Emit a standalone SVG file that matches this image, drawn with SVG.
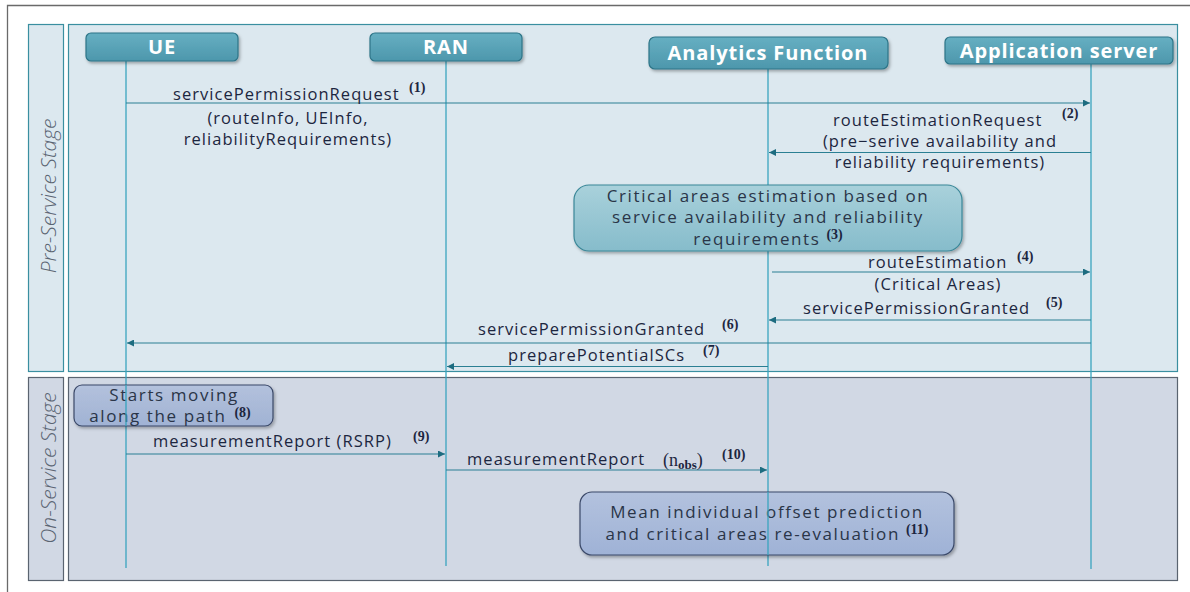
<svg xmlns="http://www.w3.org/2000/svg" width="1190" height="592" viewBox="0 0 1190 592">
<defs>
<style>
.msg{font-family:"Open Sans","Noto Sans",sans-serif;font-size:16.5px;letter-spacing:1.05px;fill:#1c2640;}
.num{font-family:"Liberation Serif","DejaVu Serif",serif;font-size:14px;font-weight:bold;letter-spacing:0;fill:#1c2640;}
.obs{font-family:"Liberation Serif","DejaVu Serif",serif;font-size:18px;fill:#1c2640;}
.hdr{font-family:"Open Sans","Noto Sans",sans-serif;font-size:20px;font-weight:bold;letter-spacing:0.9px;fill:#ffffff;text-anchor:middle;}
.note{font-family:"Open Sans","Noto Sans",sans-serif;font-size:17px;letter-spacing:1.6px;fill:#2a3548;text-anchor:middle;}
.stage{font-family:"Open Sans","Noto Sans",sans-serif;font-size:21px;font-style:italic;font-weight:300;fill:#5a6472;text-anchor:middle;}
.life{stroke:#3aa5bf;stroke-width:1.3;fill:none;}
.arr{stroke:#2a7f93;stroke-width:1.2;fill:none;}
.hbox{fill:url(#hg);stroke:#2d7487;stroke-width:1.2;filter:url(#sh);}
</style>
<linearGradient id="hg" x1="0" y1="0" x2="0" y2="1">
<stop offset="0" stop-color="#66afc2"/><stop offset="1" stop-color="#4d97ac"/>
</linearGradient>
<linearGradient id="tg" x1="0" y1="0" x2="0" y2="1">
<stop offset="0" stop-color="#a9d1db"/><stop offset="1" stop-color="#86bccb"/>
</linearGradient>
<linearGradient id="bg" x1="0" y1="0" x2="0" y2="1">
<stop offset="0" stop-color="#b3c2de"/><stop offset="1" stop-color="#9fb2d6"/>
</linearGradient>
<filter id="sh" x="-10%" y="-20%" width="120%" height="150%">
<feDropShadow dx="1.5" dy="2" stdDeviation="1.5" flood-color="#000" flood-opacity="0.3"/>
</filter>
<marker id="ah" viewBox="0 0 10 10" refX="10" refY="5" markerWidth="8" markerHeight="7" markerUnits="userSpaceOnUse" orient="auto">
<path d="M0,0 L10,5 L0,10 z" fill="#1d6c80"/>
</marker>
</defs>

<!-- outer frame -->
<path d="M7.5,592 V5.5 H1190" fill="none" stroke="#6a6a6a" stroke-width="1.3"/>

<!-- stages -->
<g id="pre-stage">
<rect x="28.5" y="24.5" width="35" height="347" fill="#dce8ef" stroke="#3a8fa0" stroke-width="1.2"/>
<rect x="68.5" y="24.5" width="1109" height="347" fill="#dce8ef" stroke="#3a8fa0" stroke-width="1.2"/>
<text class="stage" transform="translate(56,196) rotate(-90)">Pre-Service Stage</text>
</g>
<g id="on-stage">
<rect x="28.5" y="377.5" width="35" height="203" fill="#d1d8e4" stroke="#5a6470" stroke-width="1.2"/>
<rect x="68.5" y="377.5" width="1109" height="203" fill="#d1d8e4" stroke="#5a6470" stroke-width="1.2"/>
<text class="stage" transform="translate(56,468) rotate(-90)">On-Service Stage</text>
</g>

<!-- lifelines -->
<g id="lifelines">
<line class="life" x1="126" y1="61" x2="126" y2="568"/>
<line class="life" x1="446" y1="61" x2="446" y2="566"/>
<line class="life" x1="768" y1="69" x2="768" y2="566"/>
<line class="life" x1="1091" y1="64" x2="1091" y2="569"/>
</g>

<!-- nodes -->
<g id="UE">
<rect class="hbox" x="86" y="33" width="152" height="28" rx="5"/>
<text class="hdr" x="162" y="54">UE</text>
</g>
<g id="RAN">
<rect class="hbox" x="370" y="33" width="152" height="28" rx="5"/>
<text class="hdr" x="446" y="54">RAN</text>
</g>
<g id="AF">
<rect class="hbox" x="649" y="37" width="239" height="32" rx="6"/>
<text class="hdr" x="768" y="60">Analytics Function</text>
</g>
<g id="AS">
<rect class="hbox" x="945" y="37" width="228" height="27" rx="5"/>
<text class="hdr" x="1059" y="57.5">Application server</text>
</g>

<!-- note boxes -->
<g id="note3">
<rect x="574" y="185" width="388" height="66" rx="15" fill="url(#tg)" stroke="#3a8798" stroke-width="1.2" filter="url(#sh)"/>
<text class="note" x="768" y="202">Critical areas estimation based on</text>
<text class="note" x="768" y="223">service availability and reliability</text>
<text class="note" x="768" y="245">requirements <tspan class="num" dy="-6">(3)</tspan></text>
</g>

<!-- connectors -->
<g id="connectors">
<line class="arr" x1="126" y1="103" x2="1090" y2="103" marker-end="url(#ah)"/>
<line class="arr" x1="1091" y1="152.5" x2="769" y2="152.5" marker-end="url(#ah)"/>
<line class="arr" x1="772" y1="272" x2="1090" y2="272" marker-end="url(#ah)"/>
<line class="arr" x1="1091" y1="320" x2="769" y2="320" marker-end="url(#ah)"/>
<line class="arr" x1="1091" y1="343" x2="127" y2="343" marker-end="url(#ah)"/>
<line class="arr" x1="768" y1="366.5" x2="447" y2="366.5" marker-end="url(#ah)"/>
<line class="arr" x1="126" y1="454" x2="445" y2="454" marker-end="url(#ah)"/>
<line class="arr" x1="446" y1="470" x2="767" y2="470" marker-end="url(#ah)"/>
</g>

<!-- message labels -->
<g id="labels">
<text class="msg" x="173" y="100">servicePermissionRequest</text>
<text class="num" x="409" y="92">(1)</text>
<text class="msg" x="288" y="124" text-anchor="middle">(routeInfo, UEInfo,</text>
<text class="msg" x="288" y="145" text-anchor="middle">reliabilityRequirements)</text>

<text class="msg" x="833" y="126">routeEstimationRequest</text>
<text class="num" x="1062" y="118">(2)</text>
<text class="msg" x="940" y="147" text-anchor="middle">(pre−serive availability and</text>
<text class="msg" x="940" y="168" text-anchor="middle">reliability requirements)</text>

<text class="msg" x="868" y="268">routeEstimation</text>
<text class="num" x="1017" y="261">(4)</text>
<text class="msg" x="938" y="290" text-anchor="middle">(Critical Areas)</text>

<text class="msg" x="803" y="314">servicePermissionGranted</text>
<text class="num" x="1046" y="307">(5)</text>

<text class="msg" x="478" y="335">servicePermissionGranted</text>
<text class="num" x="722" y="329">(6)</text>

<text class="msg" x="508" y="361">preparePotentialSCs</text>
<text class="num" x="703" y="355">(7)</text>

<text class="msg" x="153" y="447">measurementReport (RSRP)</text>
<text class="num" x="413" y="441">(9)</text>

<text class="msg" x="467" y="465">measurementReport</text>
<text class="obs" x="663" y="466">(n<tspan dy="3" style="font-size:13px;font-weight:bold">obs</tspan><tspan dy="-3">)</tspan></text>
<text class="num" x="722" y="459">(10)</text>
</g>

<g id="note8">
<rect x="74" y="385" width="199" height="41" rx="8" fill="url(#bg)" stroke="#3a4868" stroke-width="1.2" filter="url(#sh)" fill-opacity="0.9"/>
<text class="note" x="174" y="401">Starts moving</text>
<text class="note" x="170" y="422">along the path <tspan class="num" dx="2" dy="-5">(8)</tspan></text>
</g>

<g id="note11">
<rect x="580" y="492" width="374" height="63" rx="12" fill="url(#bg)" stroke="#3a4868" stroke-width="1.2" filter="url(#sh)"/>
<text class="note" x="767" y="518">Mean individual offset prediction</text>
<text class="note" x="767" y="540">and critical areas re-evaluation <tspan class="num" dy="-6">(11)</tspan></text>
</g>
<line class="life" x1="768" y1="492" x2="768" y2="555"/>
<line class="life" x1="126" y1="385" x2="126" y2="426"/>
</svg>
